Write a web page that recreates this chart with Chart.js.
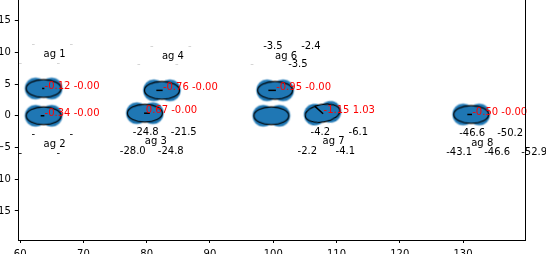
<!DOCTYPE html>
<html>
<head>
<meta charset="utf-8">
<script src="https://cdn.jsdelivr.net/npm/chart.js@4.4.1/dist/chart.umd.min.js"></script>
<style>
  html, body { margin: 0; padding: 0; background: #fff; width: 546px; height: 254px; overflow: hidden; position: relative; }
  #plot { position: absolute; left: -30px; top: -20px; }
</style>
</head>
<body>
<canvas id="plot" width="600" height="290"></canvas>
<script>
// agents
const agentNames = ['ag 1', 'ag 2', 'ag 3', 'ag 4', '', 'ag 6', 'ag 7', 'ag 8'];
const agentX = [63.7, 63.7, 79.7, 82.4, 99.7, 100.3, 107.8, 131.3];
const agentY = [4.3, 0.0, 0.4, 4.0, 0.0, 4.0, 0.4, 0.2];
const agentAngle = [0, 0, 0, 0, 0, 0, -10, 0];
const velX = [-0.12, -0.34, 0.67, -0.76, null, -0.95, -1.15, -0.50];
const velY = [-0, -0, -0, -0, null, -0, 1.03, -0];
// the four numbers printed round each agent label
const cornerTL = ['-', '-', '-24.8', '-', '', '-3.5', '-4.2', '-46.6'];
const cornerTR = ['-', '-', '-21.5', '-', '', '-2.4', '-6.1', '-50.2'];
const cornerBL = ['-', '-', '-28.0', '-', '', '-', '-2.2', '-43.1'];
const cornerBR = ['-', '-', '-24.8', '-', '', '-3.5', '-4.1', '-46.6'];
// stray text at the right edge
const extraText = ['-52.9'];
const extraX = [139.2];
const extraY = [-5.8];

const FONT = '10px "DejaVu Sans"';
const BLUE = '#1f77b4';

// blob marker: two round markers under an outlined ellipse
function makeBlob() {
  const c = document.createElement('canvas');
  c.width = 48; c.height = 30;
  const g = c.getContext('2d');
  [16, 32].forEach(cx => {
    g.beginPath();
    g.arc(cx, 15, 10.5, 0, Math.PI * 2);
    g.fillStyle = BLUE;
    g.fill();
    g.lineWidth = 1.5;
    g.strokeStyle = 'rgba(31,119,180,0.45)';
    g.stroke();
  });
  g.beginPath();
  g.ellipse(24, 15, 17.5, 8.8, 0, 0, Math.PI * 2);
  g.fillStyle = BLUE;
  g.fill();
  g.lineWidth = 1.2;
  g.strokeStyle = '#000';
  g.stroke();
  return c;
}

function fmt(v) {
  return (v < 0 || Object.is(v, -0) ? '-' : '') + Math.abs(v).toFixed(2);
}

const overlay = {
  id: 'overlay',
  afterDatasetsDraw(chart) {
    const { ctx, scales: { x: sx, y: sy } } = chart;
    ctx.save();
    ctx.font = FONT;
    ctx.textBaseline = 'middle';
    agentX.forEach((ax, i) => {
      const px = sx.getPixelForValue(ax);
      const py = sy.getPixelForValue(agentY[i]);
      if (velX[i] !== null) {
        ctx.beginPath();
        ctx.moveTo(px, py);
        ctx.lineTo(sx.getPixelForValue(ax + velX[i]), sy.getPixelForValue(agentY[i] + velY[i]));
        ctx.lineWidth = 1.5;
        ctx.lineCap = 'square';
        ctx.strokeStyle = '#000';
        ctx.stroke();
        ctx.fillStyle = '#ff0000';
        ctx.textAlign = 'left';
        ctx.fillText(fmt(velX[i]) + ' ' + fmt(velY[i]), px + 1, py - 2.5);
      }
      const above = agentY[i] > 2;
      const rowTop = above ? -44 : 19;
      const rowMid = above ? -34 : 28.5;
      const rowBot = above ? -25.5 : 38;
      const put = (t, dx, dy) => {
        if (!t) return;
        ctx.fillStyle = (t === '-' && above) ? '#cfcfcf' : '#000';
        ctx.fillText(t, px + dx, py + dy);
      };
      ctx.textAlign = 'left';
      put(cornerTL[i], -12, rowTop);
      put(cornerTR[i], 26, rowTop);
      put(cornerBL[i], -25, rowBot);
      put(cornerBR[i], 13, rowBot);
      if (agentNames[i]) {
        ctx.textAlign = 'center';
        ctx.fillStyle = '#000';
        ctx.fillText(agentNames[i], px + 11, py + rowMid);
      }
    });
    ctx.textAlign = 'left';
    ctx.fillStyle = '#000';
    extraText.forEach((t, i) => {
      ctx.fillText(t, sx.getPixelForValue(extraX[i]), sy.getPixelForValue(extraY[i]));
    });
    ctx.restore();
  },
  afterDraw(chart) {
    const { ctx, chartArea: a } = chart;
    ctx.save();
    ctx.strokeStyle = '#000';
    ctx.lineWidth = 1;
    ctx.strokeRect(Math.round(a.left) + 0.5, Math.round(a.top) + 0.5,
                   Math.round(a.right - a.left), Math.round(a.bottom - a.top));
    ctx.restore();
  }
};

const tickFont = { family: 'DejaVu Sans', size: 10 };

new Chart(document.getElementById('plot'), {
  type: 'scatter',
  data: {
    datasets: [{
      data: agentX.map((x, i) => ({ x: x, y: agentY[i] })),
      pointStyle: makeBlob(),
      rotation: agentAngle,
      pointRadius: 10,
      pointHoverRadius: 10
    }]
  },
  options: {
    responsive: false,
    animation: false,
    events: [],
    layout: { padding: { left: 0, top: 12, right: 45, bottom: 0 } },
    plugins: { legend: { display: false }, tooltip: { enabled: false } },
    scales: {
      x: {
        type: 'linear',
        min: 59.7,
        max: 139.8,
        afterFit(s) { s.height = 30.5; },
        border: { display: false },
        grid: { drawOnChartArea: false, drawTicks: true, tickLength: 3.5, color: '#000' },
        ticks: { stepSize: 10, includeBounds: false, color: '#000', font: tickFont, padding: 5, maxRotation: 0 }
      },
      y: {
        type: 'linear',
        min: -19.5,
        max: 19.5,
        afterFit(s) { s.width = 48.3; },
        border: { display: false },
        grid: { drawOnChartArea: false, drawTicks: true, tickLength: 3.5, color: '#000' },
        ticks: {
          stepSize: 5, includeBounds: false, color: '#000', font: tickFont, padding: 4,
          callback: v => String(v).replace('-', '\u2212')
        }
      }
    }
  },
  plugins: [overlay]
});
</script>
</body>
</html>
